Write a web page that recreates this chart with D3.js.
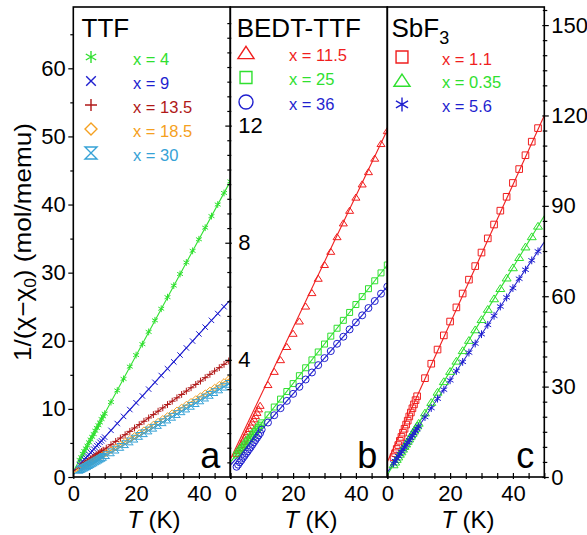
<!DOCTYPE html>
<html><head><meta charset="utf-8">
<script src="https://cdn.jsdelivr.net/npm/d3@7"></script>
<style>
body{margin:0;background:#fff}
svg{display:block}
text{font-family:"Liberation Sans",Arial,Helvetica,sans-serif}
</style>
</head><body>
<svg id="chart" width="587" height="535"></svg>
<script>
// ---------- DATA ----------
const tempsLow   = [2,2.5,3,3.5,4,4.5,5,5.5,6,6.5,7,7.5,8,8.5,9,9.5];
const temps2     = [10,12,14,16,18,20,22,24,26,28,30,32,34,36,38,40,42,44,46,48];
const temps2to50 = [10,12,14,16,18,20,22,24,26,28,30,32,34,36,38,40,42,44,46,48,50];
const temps15    = [10.5,12,13.5,15,16.5,18,19.5,21,22.5,24,25.5,27,28.5,30,31.5,33,34.5,36,37.5,39,40.5,42,43.5,45,46.5,48,49.5];
const temps12to50= [12,14,16,18,20,22,24,26,28,30,32,34,36,38,40,42,44,46,48,50];
const temps12to48= [12,14,16,18,20,22,24,26,28,30,32,34,36,38,40,42,44,46,48];
const fitTemps   = [0,50];

// Panel a: TTF
const aX4Low   = [2.5,2.9,3.4,3.8,4.2,4.6,5.1,5.5,5.9,6.3,6.8,7.2,7.6,8.0,8.5,8.9];
const aX4High  = [9.3,11.0,12.7,14.4,16.2,17.9,19.5,21.3,23.0,24.7,26.4,28.1,29.8,31.5,33.2,34.9,36.6,38.3,40.0,41.7,43.4];
const aX9Low   = [1.8,2.1,2.3,2.6,2.8,3.1,3.3,3.6,3.8,4.1,4.3,4.6,4.8,5.1,5.3,5.6];
const aX9High  = [5.85,6.85,7.85,8.9,9.9,10.9,11.9,12.9,13.9,14.9,15.9,16.9,17.9,18.95,19.95,21.0,22.0,23.0,24.0,25.0];
const aX135Low = [1.5,1.65,1.8,1.97,2.13,2.3,2.46,2.62,2.79,2.95,3.12,3.28,3.44,3.61,3.77,3.94];
const aX135High= [4.24,4.74,5.23,5.72,6.21,6.70,7.20,7.69,8.18,8.67,9.16,9.66,10.15,10.64,11.13,11.62,12.12,12.61,13.10,13.59,14.08,14.58,15.07,15.56,16.05,16.54,17.04];
const aX185Low = [1.25,1.36,1.48,1.6,1.73,1.86,1.99,2.13,2.27,2.41,2.55,2.69,2.82,2.96,3.10,3.24];
const aX185High= [3.52,3.94,4.35,4.77,5.19,5.60,6.02,6.44,6.86,7.27,7.69,8.11,8.52,8.94,9.36,9.77,10.19,10.61,11.03,11.44,11.86,12.28,12.69,13.11,13.53,13.94,14.36];
const aX30Low  = [1.05,1.16,1.27,1.38,1.5,1.62,1.75,1.88,2.01,2.14,2.28,2.41,2.54,2.68,2.81,2.95];
const aX30High = [3.21,3.62,4.02,4.42,4.82,5.22,5.63,6.03,6.43,6.83,7.23,7.64,8.04,8.44,8.84,9.24,9.65,10.05,10.45,10.85,11.25,11.66,12.06,12.46,12.86,13.26,13.67];
const aFitX4 = [0.8,43.4], aFitX9 = [0.8,26.0], aFitX135 = [0.8,17.2], aFitX185 = [0.6,14.5], aFitX30 = [0.4,13.8];

// Panel b: BEDT-TTF
const bX115Low = [0.8,0.9,1.0,1.1,1.21,1.32,1.43,1.54,1.65,1.76,1.87,1.98,2.09,2.2,2.32,2.44];
const bX115High= [3.15,3.6,4.0,4.45,4.9,5.32,5.83,6.29,6.78,7.25,7.7,8.2,8.67,9.1,9.55,10.0,10.42,10.88,11.38,11.82];
const bX25Low  = [0.75,0.82,0.89,0.96,1.02,1.09,1.16,1.23,1.29,1.36,1.43,1.5,1.56,1.63,1.7,1.77];
const bX25High = [1.85,2.12,2.39,2.66,2.92,3.19,3.46,3.73,4.0,4.27,4.54,4.81,5.08,5.35,5.62,5.89,6.16,6.43,6.7,6.97,7.24];
const bX36Low  = [0.35,0.42,0.5,0.57,0.65,0.72,0.8,0.87,0.95,1.02,1.1,1.18,1.26,1.34,1.42,1.5];
const bX36High = [1.62,1.86,2.11,2.35,2.6,2.84,3.08,3.33,3.57,3.82,4.06,4.3,4.55,4.79,5.04,5.28,5.52,5.77,6.01,6.26,6.5];
const bFitX115 = [0.6,11.85], bFitX25 = [0.5,7.24], bFitX36 = [0.4,6.5];

// Panel c: SbF3
const cX11Low  = [6.6,7.9,9.3,10.6,12.0,13.3,14.7,16.0,17.4,18.7,20.1,21.4,22.8,24.1,25.5,26.8];
const cX11High = [32.8,37.6,42.3,47.0,51.6,56.3,60.9,65.5,70.0,74.5,79.2,83.8,88.4,93.0,97.6,102.2,106.8,111.3,115.8];
const cX035Low = [4.1,5.0,5.9,6.7,7.6,8.4,9.3,10.2,11.0,11.9,12.7,13.6,14.5,15.3,16.2,17.0];
const cX035High= [17.9,21.3,24.8,28.2,31.7,35.1,38.5,42.0,45.4,48.9,52.3,55.7,59.2,62.6,66.1,69.5,72.9,76.4,79.8,83.3];
const cX56Low  = [4.5,5.3,6.1,6.9,7.6,8.4,9.2,9.9,10.7,11.5,12.2,13.0,13.7,14.5,15.3,16.0];
const cX56High = [16.8,19.9,22.9,26.0,29.0,32.1,35.2,38.2,41.3,44.3,47.4,50.5,53.5,56.6,59.6,62.7,65.8,68.8,71.9,74.9];
const cFitX11 = [5,120], cFitX035 = [0.7,86.7], cFitX56 = [1.5,78];

// Tick labels
const xTickLabels = [0,20,40];
const aYTickLabels = [0,10,20,30,40,50,60];
const bYTickLabels = [4,8,12];
const cYTickLabels = [0,30,60,90,120,150];

// ---------- STYLE / LAYOUT ----------
const C = {green:"#2fe02f", blue:"#1f1fcf", dred:"#b01818", orange:"#f5a020", cyan:"#36a2d6", red:"#f01e1e"};
const yTop = 7, yBottom = 477, pw = 157;
const FONT = "Liberation Sans, Arial, sans-serif";
const panels = [
  {id:"a", x0:73.3, ymax:69, title:"TTF", tx:81.5,
   series:[
     {label:"x = 4",    color:C.green,  marker:"asterisk",  T:[tempsLow,temps2to50], V:[aX4Low,aX4High], fit:aFitX4},
     {label:"x = 9",    color:C.blue,   marker:"cross",     T:[tempsLow,temps2],     V:[aX9Low,aX9High], fit:aFitX9},
     {label:"x = 13.5", color:C.dred,   marker:"plus",      T:[tempsLow,temps15],    V:[aX135Low,aX135High], fit:aFitX135},
     {label:"x = 18.5", color:C.orange, marker:"diamond",   T:[tempsLow,temps15],    V:[aX185Low,aX185High], fit:aFitX185},
     {label:"x = 30",   color:C.cyan,   marker:"hourglass", T:[tempsLow,temps15],    V:[aX30Low,aX30High], fit:aFitX30}
   ],
   leg:{mx:91, lx:133, y0:57, dy:24, ms:6, ms2:3.4}},
  {id:"b", x0:230.3, ymax:16.05, title:"BEDT-TTF", tx:236.7,
   series:[
     {label:"x = 11.5", color:C.red,   marker:"triangle", T:[tempsLow,temps12to50], V:[bX115Low,bX115High], fit:bFitX115},
     {label:"x = 25",   color:C.green, marker:"square",   T:[tempsLow,temps2to50],  V:[bX25Low,bX25High], fit:bFitX25},
     {label:"x = 36",   color:C.blue,  marker:"circle",   T:[tempsLow,temps2to50],  V:[bX36Low,bX36High], fit:bFitX36}
   ],
   leg:{mx:246, lx:289, y0:53, dy:24.5, ms:7, ms2:3.5}},
  {id:"c", x0:387.3, ymax:156, title:"SbF", tx:391.5,
   series:[
     {label:"x = 1.1",  color:C.red,   marker:"square",   T:[tempsLow,temps12to48], V:[cX11Low,cX11High], fit:cFitX11},
     {label:"x = 0.35", color:C.green, marker:"triangle", T:[tempsLow,temps2],      V:[cX035Low,cX035High], fit:cFitX035},
     {label:"x = 5.6",  color:C.blue,  marker:"asterisk", T:[tempsLow,temps2],      V:[cX56Low,cX56High], fit:cFitX56}
   ],
   leg:{mx:402, lx:442, y0:57, dy:23.7, ms:7, ms2:3.9}}
];

function markerPath(type, s){
  const a = s*0.866, b = s*0.5;
  switch(type){
    case "asterisk": return `M0,${-s}L0,${s}M${-a},${-b}L${a},${b}M${-a},${b}L${a},${-b}`;
    case "cross": return `M${-s*0.8},${-s*0.8}L${s*0.8},${s*0.8}M${-s*0.8},${s*0.8}L${s*0.8},${-s*0.8}`;
    case "plus": return `M${-s},0L${s},0M0,${-s}L0,${s}`;
    case "diamond": return `M0,${-s}L${s},0L0,${s}L${-s},0Z`;
    case "hourglass": return `M${-s},${-s}L${s},${-s}L${-s},${s}L${s},${s}Z`;
    case "triangle": return `M0,${-s*0.95}L${s*1.15},${s*0.8}L${-s*1.15},${s*0.8}Z`;
    case "square": return `M${-s*0.85},${-s*0.85}H${s*0.85}V${s*0.85}H${-s*0.85}Z`;
    case "circle": return `M${-s},0A${s},${s} 0 1,0 ${s},0A${s},${s} 0 1,0 ${-s},0Z`;
  }
}

const svg = d3.select("#chart");
const defs = svg.append("defs");

panels.forEach((p) => {
  const x = d3.scaleLinear().domain([0,50]).range([p.x0, p.x0+pw]);
  const y = d3.scaleLinear().domain([0,p.ymax]).range([yBottom, yTop]);
  defs.append("clipPath").attr("id","clip"+p.id).append("rect")
    .attr("x",p.x0).attr("y",yTop).attr("width",pw).attr("height",yBottom-yTop);
  const g = svg.append("g").attr("clip-path",`url(#clip${p.id})`);

  // fit lines
  p.series.forEach(s => {
    const pts = fitTemps.map((t,i)=>[t, s.fit[i]]);
    g.append("path").attr("d", d3.line().x(d=>x(d[0])).y(d=>y(d[1]))(pts))
      .attr("stroke", s.color).attr("stroke-width",1.1).attr("fill","none");
  });
  // markers
  p.series.forEach(s => {
    const pts = [];
    s.T.forEach((arr,k)=>arr.forEach((t,i)=>pts.push([t, s.V[k][i]])));
    g.selectAll(null).data(pts).enter().append("path")
      .attr("transform", d=>`translate(${x(d[0])},${y(d[1])})`)
      .attr("d", markerPath(s.marker, p.leg.ms2))
      .attr("stroke", s.color).attr("stroke-width",1).attr("fill","none");
  });

  // bottom axis: ticks inward
  const bx = svg.append("g").attr("transform",`translate(0,${yBottom})`)
    .call(d3.axisBottom(x).tickValues(d3.range(0,51,5)).tickSize(-4).tickPadding(8.5)
      .tickFormat(d => xTickLabels.includes(d) ? d : ""));
  bx.select(".domain").remove();
  bx.selectAll("line").attr("stroke","#000").attr("stroke-width",1.2).attr("y2",-4).attr("y1",2);
  bx.selectAll("text").attr("font-size",22).attr("fill","#000").attr("font-family",FONT);

  // x axis title
  const xt = svg.append("text").attr("x", p.x0+pw/2+2).attr("y",527.5).attr("text-anchor","middle")
    .attr("font-size",24).attr("fill","#000");
  xt.append("tspan").attr("font-style","italic").text("T");
  xt.append("tspan").text(" (K)");

  // y axes
  if(p.id==="a"){
    const minor = svg.append("g").attr("transform",`translate(${p.x0},0)`)
      .call(d3.axisLeft(y).tickValues(d3.range(5,69,10)).tickSize(3).tickFormat(""));
    minor.select(".domain").remove();
    minor.selectAll("line").attr("stroke-width",1.2);
    const major = svg.append("g").attr("transform",`translate(${p.x0},0)`)
      .call(d3.axisLeft(y).tickValues(aYTickLabels).tickSize(5).tickPadding(2.5));
    major.select(".domain").remove();
    major.selectAll("line").attr("stroke-width",1.2);
    major.selectAll("text").attr("font-size",22).attr("font-family",FONT);
  }
  if(p.id==="b"){
    const minor = svg.append("g").attr("transform",`translate(${p.x0},0)`)
      .call(d3.axisLeft(y).tickValues(d3.range(0.5,16,0.5).filter(v=>v%4!==0)).tickSize(3).tickFormat(""));
    minor.select(".domain").remove();
    minor.selectAll("line").attr("x2",-3).attr("x1",1).attr("stroke-width",1.2);
    const major = svg.append("g").attr("transform",`translate(${p.x0},0)`)
      .call(d3.axisLeft(y).tickValues([4,8,12]).tickSize(5).tickFormat(""));
    major.select(".domain").remove();
    major.selectAll("line").attr("x2",-5).attr("x1",1.5).attr("stroke-width",1.2);
    const lab = svg.append("g").attr("transform",`translate(${p.x0},0)`)
      .call(d3.axisRight(y).tickValues(bYTickLabels).tickSize(0).tickPadding(8));
    lab.select(".domain").remove();
    lab.selectAll("text").attr("font-size",22).attr("font-family",FONT);
  }
  if(p.id==="c"){
    const xr = p.x0+pw;
    const minor = svg.append("g").attr("transform",`translate(${xr},0)`)
      .call(d3.axisRight(y).tickValues(d3.range(5,156,5).filter(v=>v%30!==0)).tickSize(3).tickFormat(""));
    minor.select(".domain").remove();
    minor.selectAll("line").attr("x1",-1.5).attr("stroke-width",1.2);
    const major = svg.append("g").attr("transform",`translate(${xr},0)`)
      .call(d3.axisRight(y).tickValues(cYTickLabels).tickSize(4.5).tickPadding(2.5));
    major.select(".domain").remove();
    major.selectAll("line").attr("x1",-2).attr("stroke-width",1.2);
    major.selectAll("text").attr("font-size",22).attr("font-family",FONT);
  }

  // frame
  svg.append("rect").attr("x",p.x0).attr("y",yTop).attr("width",pw).attr("height",yBottom-yTop)
    .attr("fill","none").attr("stroke","#000").attr("stroke-width",1.6);

  // title
  const tt = svg.append("text").attr("x", p.tx).attr("y",37)
    .attr("font-size",26).attr("fill","#000").text(p.title);
  if(p.id==="c") tt.append("tspan").attr("font-size",18).attr("dy",7).text("3");

  // legend
  p.series.forEach((s,i) => {
    const yy = p.leg.y0 + i*p.leg.dy;
    svg.append("path").attr("transform",`translate(${p.leg.mx},${yy})`)
      .attr("d", markerPath(s.marker, p.leg.ms)).attr("stroke", s.color)
      .attr("stroke-width",1.4).attr("fill","none");
    svg.append("text").attr("x", p.leg.lx).attr("y", yy+7.5).attr("font-size",16.5)
      .attr("fill", s.color).text(s.label);
  });

  // panel letter
  svg.append("text").attr("x", p.x0+pw-10).attr("y",468).attr("text-anchor","end")
    .attr("font-size",36).attr("fill","#000").text(p.id);
});

// y axis title
const yt = svg.append("text").attr("transform","translate(31,242) rotate(-90)")
  .attr("text-anchor","middle").attr("font-size",24).attr("fill","#000")
  .attr("textLength",238).attr("lengthAdjust","spacingAndGlyphs");
yt.append("tspan").text("1/(χ−χ");
yt.append("tspan").attr("font-size",16).attr("dy",5).text("0");
yt.append("tspan").attr("dy",-5).text(") (mol/memu)");
</script>
</body></html>
